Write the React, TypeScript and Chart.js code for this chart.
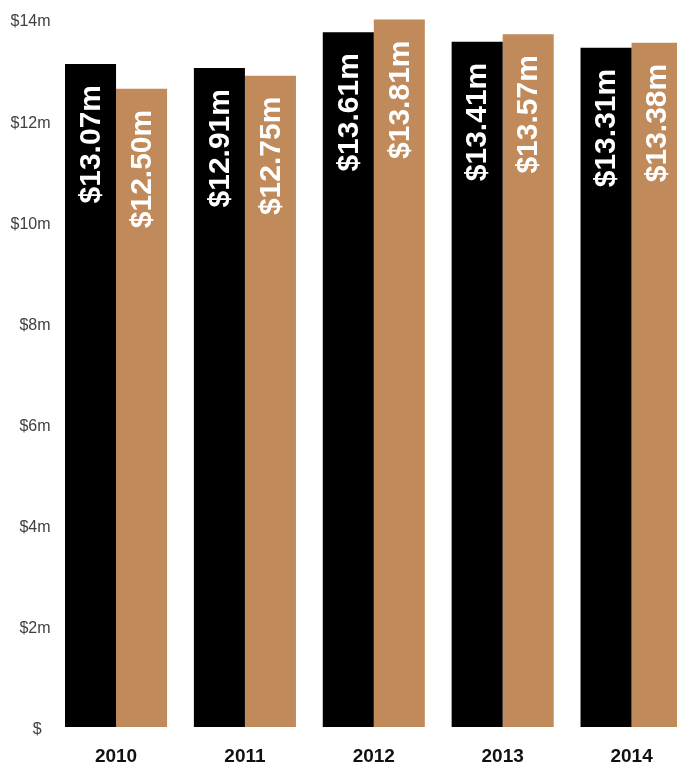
import React, { useEffect, useRef } from "react";
import { Chart, registerables } from "chart.js";

Chart.register(...registerables);

const years = ["2010", "2011", "2012", "2013", "2014"];
const seriesA = [13.11, 13.03, 13.74, 13.55, 13.43];
const seriesB = [12.62, 12.88, 13.99, 13.7, 13.53];
const labelsA = ["$13.07m", "$12.91m", "$13.61m", "$13.41m", "$13.31m"];
const labelsB = ["$12.50m", "$12.75m", "$13.81m", "$13.57m", "$13.38m"];
const yTicks = [0, 2, 4, 6, 8, 10, 12, 14];

const colorA = "#000000";
const colorB = "#C08A5A";

const barLabelPlugin = {
  id: "barLabels",
  afterDatasetsDraw(chart: any) {
    const ctx = chart.ctx;
    const texts = [labelsA, labelsB];
    chart.data.datasets.forEach((_ds: any, di: number) => {
      const meta = chart.getDatasetMeta(di);
      meta.data.forEach((bar: any, i: number) => {
        ctx.save();
        ctx.translate(bar.x, bar.y + 21);
        ctx.rotate(-Math.PI / 2);
        ctx.font = "bold 30px 'Liberation Sans', Arial, sans-serif";
        ctx.fillStyle = "#ffffff";
        ctx.textAlign = "right";
        ctx.textBaseline = "middle";
        ctx.fillText(texts[di][i], 0, 1);
        ctx.restore();
      });
    });
  },
};

export default function App() {
  const ref = useRef<HTMLCanvasElement>(null);
  useEffect(() => {
    if (!ref.current) return;
    const chart = new Chart(ref.current, {
      type: "bar",
      data: {
        labels: years,
        datasets: [
          { data: seriesA, backgroundColor: colorA, borderWidth: 0 },
          { data: seriesB, backgroundColor: colorB, borderWidth: 0 },
        ],
      },
      options: {
        responsive: false,
        animation: false,
        layout: { padding: { top: 19, right: 0, bottom: 0, left: 0 } },
        datasets: {
          bar: { categoryPercentage: 0.792, barPercentage: 1 },
        } as any,
        plugins: {
          legend: { display: false },
          tooltip: { enabled: false },
        },
        scales: {
          x: {
            grid: { display: false, drawTicks: false },
            border: { display: false },
            ticks: {
              color: "#111111",
              padding: 18,
              font: { family: "'Liberation Sans', Arial, sans-serif", size: 19, weight: "bold" },
            },
            afterFit(scale: any) {
              scale.height = 39;
            },
          },
          y: {
            min: 0,
            max: 14,
            afterBuildTicks(scale: any) {
              scale.ticks = yTicks.map((v) => ({ value: v }));
            },
            grid: { display: false, drawTicks: false },
            border: { display: false },
            ticks: {
              color: "#404040",
              padding: 1,
              labelOffset: 3,
              font: { family: "'Liberation Sans', Arial, sans-serif", size: 16 },
              callback: (v: any) => (Number(v) === 0 ? "$  " : "$" + v + "m"),
            },
            afterFit(scale: any) {
              scale.width = 51.6;
            },
          },
        },
      },
      plugins: [barLabelPlugin],
    });
    return () => chart.destroy();
  }, []);

  return (
    <div
      style={{
        position: "fixed",
        left: 0,
        top: 0,
        width: 677,
        height: 766,
        overflow: "hidden",
        background: "#ffffff",
      }}
    >
      <canvas ref={ref} width={696} height={766} style={{ width: 696, height: 766, display: "block" }} />
    </div>
  );
}
